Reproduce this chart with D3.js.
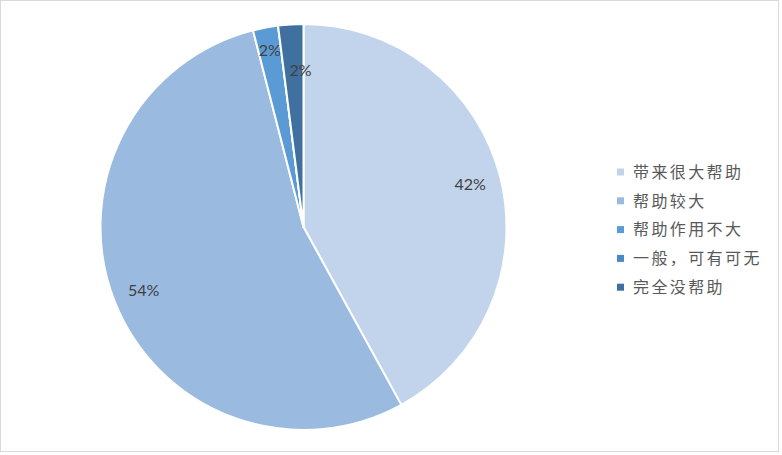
<!DOCTYPE html>
<html><head><meta charset="utf-8">
<script src="https://cdn.jsdelivr.net/npm/d3@7"></script>
<style>html,body{margin:0;padding:0;background:#fff;}svg{display:block;}</style>
</head><body>
<svg id="chart" width="782" height="455"></svg>
<script>
const categories = ["带来很大帮助", "帮助较大", "帮助作用不大", "一般，可有可无", "完全没帮助"];
const values = [42, 54, 2, 0, 2];
const labels = ["42%", "54%", "2%", "", "2%"];
const colors = ["#c2d4eb", "#9bbae0", "#5b9bd5", "#4a89c4", "#40709f"];

const svg = d3.select("#chart");
svg.append("rect").attr("x", 0.5).attr("y", 0.5).attr("width", 778).attr("height", 451)
  .attr("fill", "#fff").attr("stroke", "#d9d9d9").attr("stroke-width", 1);

const cx = 303.5, cy = 227, R = 203;
const g = svg.append("g").attr("transform", `translate(${cx},${cy})`);
const pie = d3.pie().sort(null).value(d => d)(values);
const arc = d3.arc().innerRadius(0).outerRadius(R);

g.selectAll("path").data(pie).enter().append("path")
  .attr("d", arc)
  .attr("fill", (d, i) => colors[i])
  .attr("stroke", "#fff").attr("stroke-width", 2).attr("stroke-linejoin", "round");

// label placement (layout only)
const labelR = [172, 172, 180, 0, 157];
const labelDx = [0, 0, 0, 0, 7];
pie.forEach((d, i) => {
  if (!labels[i]) return;
  const a = (d.startAngle + d.endAngle) / 2;
  const x = Math.sin(a) * labelR[i] + labelDx[i];
  const y = -Math.cos(a) * labelR[i];
  g.append("text").attr("x", x).attr("y", y).attr("dy", "0.35em")
    .attr("text-anchor", "middle")
    .attr("font-family", "Lato, 'Open Sans', sans-serif").attr("font-size", 16)
    .attr("fill", "#404040").text(labels[i]);
});

const legend = svg.append("g").attr("transform", "translate(617,172)");
const rowH = 28.8;
categories.forEach((c, i) => {
  const row = legend.append("g").attr("transform", `translate(0,${i * rowH})`);
  row.append("rect").attr("x", 0).attr("y", -3.5).attr("width", 7).attr("height", 7).attr("fill", colors[i]);
  row.append("text").attr("x", 16).attr("y", 0).attr("dy", "0.36em")
    .attr("font-family", "'Noto Sans CJK SC', sans-serif").attr("font-size", 16)
    .attr("letter-spacing", "2.4px").attr("fill", "#595959").text(c);
});
</script>
</body></html>
